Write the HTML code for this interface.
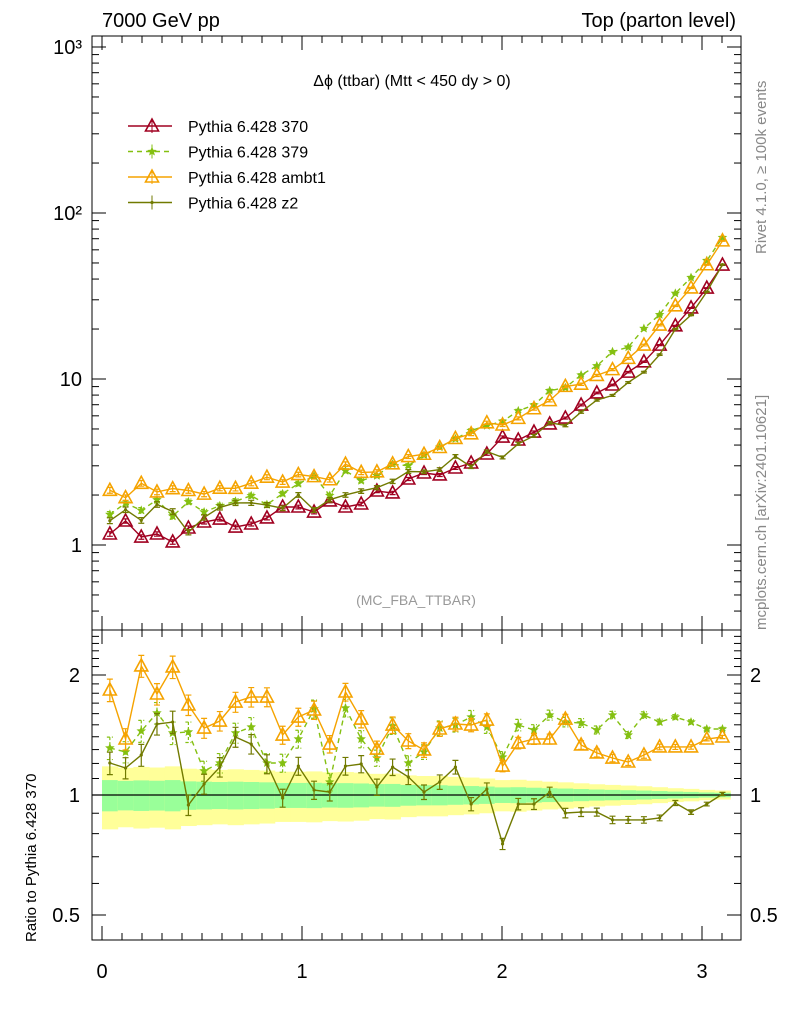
<!DOCTYPE html>
<html><head><meta charset="utf-8"><style>
html,body{margin:0;padding:0;background:#fff;}
svg{display:block;font-family:"Liberation Sans",sans-serif;}
</style></head><body>
<svg id="chart" width="786" height="1024" viewBox="0 0 786 1024" xmlns="http://www.w3.org/2000/svg">
<rect x="0" y="0" width="786" height="1024" fill="#fff"/>
<g id="bands"></g>
<g id="ticks"></g>
<g id="series"></g>
<rect x="92" y="36" width="649" height="594" fill="none" stroke="#000" stroke-width="1"/>
<rect x="92" y="630" width="649" height="310" fill="none" stroke="#000" stroke-width="1"/>
<text x="102" y="27" font-size="20">7000 GeV pp</text>
<text x="736" y="27" font-size="20" text-anchor="end">Top (parton level)</text>
<text x="412" y="86" font-size="16" text-anchor="middle">Δϕ (ttbar) (Mtt &lt; 450 dy &gt; 0)</text>
<text x="416" y="605" font-size="14" fill="#999" text-anchor="middle">(MC_FBA_TTBAR)</text>
<text transform="translate(766,254) rotate(-90)" font-size="15" fill="#888">Rivet 4.1.0, ≥ 100k events</text>
<text transform="translate(766,630) rotate(-90)" font-size="15" fill="#888">mcplots.cern.ch [arXiv:2401.10621]</text>
<text transform="translate(36,942) rotate(-90)" font-size="15">Ratio to Pythia 6.428 370</text>
<g id="legend"></g>
</svg>
<script>
const categories = [];
for (let i = 0; i < 40; i++) categories.push((i + 0.5) * Math.PI / 40);
const ref370 = [1.165,1.395,1.117,1.165,1.043,1.266,1.376,1.434,1.283,1.338,1.455,1.694,1.694,1.58,1.842,1.694,1.766,2.115,2.058,2.498,2.715,2.641,2.91,3.119,3.533,4.47,4.29,4.79,5.36,5.82,6.97,8.24,9.2,11.0,12.7,16.0,20.9,26.8,35.3,48.6];
const ratio379 = [1.312,1.282,1.447,1.606,1.431,1.439,1.149,1.203,1.431,1.481,1.203,1.203,1.382,1.644,1.078,1.653,1.382,1.238,1.49,1.203,1.282,1.472,1.498,1.569,1.481,1.245,1.498,1.456,1.587,1.524,1.516,1.456,1.587,1.414,1.587,1.524,1.569,1.524,1.464,1.464];
const ratioAmbt1 = [1.834,1.382,2.107,1.792,2.095,1.682,1.472,1.533,1.711,1.761,1.761,1.414,1.569,1.634,1.342,1.813,1.551,1.304,1.498,1.366,1.297,1.464,1.507,1.498,1.542,1.182,1.35,1.382,1.382,1.551,1.335,1.275,1.238,1.21,1.26,1.32,1.32,1.32,1.382,1.398];
const ratioZ2 = [1.203,1.169,1.26,1.507,1.524,0.944,1.066,1.175,1.398,1.342,1.196,0.983,1.182,1.029,1.017,1.182,1.196,1.047,1.175,1.11,1.017,1.078,1.175,0.949,1.035,0.754,0.949,0.949,1.017,0.901,0.906,0.906,0.866,0.866,0.866,0.876,0.955,0.906,0.949,1.006];
const relErr = [0.09,0.085,0.088,0.086,0.09,0.082,0.08,0.078,0.08,0.078,0.076,0.072,0.072,0.073,0.07,0.071,0.069,0.065,0.066,0.06,0.058,0.058,0.055,0.053,0.05,0.045,0.046,0.043,0.04,0.038,0.035,0.032,0.03,0.028,0.026,0.023,0.02,0.018,0.015,0.013];
const mainTickLabels = ["1","10","10²","10³"];
const ratioTickLabels = ["0.5","1","2"];
const xTickLabels = ["0","1","2","3"];

const NS = "http://www.w3.org/2000/svg";
const X = v => 102 + 200 * v;
const YM = v => 545 - 166 * Math.log10(v);
const YR = r => 795 - 120 * Math.log2(r);
function mk(tag, attrs, parent) { const e = document.createElementNS(NS, tag); for (const k in attrs) e.setAttribute(k, attrs[k]); parent.appendChild(e); return e; }
const ticks = document.getElementById('ticks');
const bandsG = document.getElementById('bands');
const seriesG = document.getElementById('series');
const legendG = document.getElementById('legend');

// bands
const hw = Math.PI / 80;
categories.forEach((c, i) => {
  const y1 = mk('rect', {x: X(c - hw), width: X(c + hw) - X(c - hw) + 0.5, y: YR(1 + 2 * relErr[i]), height: YR(1 - 2 * relErr[i]) - YR(1 + 2 * relErr[i]), fill: '#ffff99'}, bandsG);
  
  
  const g1 = mk('rect', {x: X(c - hw), width: X(c + hw) - X(c - hw) + 0.5, y: YR(1 + relErr[i]), height: YR(1 - relErr[i]) - YR(1 + relErr[i]), fill: '#99ff99'}, bandsG);
  
  
});
const one = mk('line', {x1: 92, x2: 741, y1: YR(1), y2: YR(1), stroke: '#000', 'stroke-width': 1.2}, bandsG);



// main y ticks
for (let d = -1; d <= 3; d++) {
  for (let m = 1; m <= 9; m++) {
    const v = m * Math.pow(10, d);
    const y = YM(v);
    if (y < 36 || y > 630) continue;
    const L = m === 1 ? 14 : 7;
    mk('line', {x1: 92, x2: 92 + L, y1: y, y2: y, stroke: '#000'}, ticks);
    mk('line', {x1: 741, x2: 741 - L, y1: y, y2: y, stroke: '#000'}, ticks);
  }
}
[1, 10, 100, 1000].forEach((v, i) => {
  const t = mk('text', {x: 82, y: YM(v) + 7, 'font-size': 20, 'text-anchor': 'end'}, ticks);
  t.textContent = mainTickLabels[i];
  
  
});
// ratio y ticks
for (let r = 0.5; r <= 2.55; r += 0.1) {
  const y = YR(r); if (y < 630 || y > 940) continue;
  const major = Math.abs(r - 0.5) < 1e-6 || Math.abs(r - 1) < 1e-6 || Math.abs(r - 2) < 1e-6;
  const L = major ? 14 : 7;
  mk('line', {x1: 92, x2: 92 + L, y1: y, y2: y, stroke: '#000'}, ticks);
  mk('line', {x1: 741, x2: 741 - L, y1: y, y2: y, stroke: '#000'}, ticks);
}
[0.5, 1, 2].forEach((r, i) => {
  const t = mk('text', {x: 80, y: YR(r) + 7, 'font-size': 20, 'text-anchor': 'end'}, ticks);
  t.textContent = ratioTickLabels[i];
  
  
  const t2 = mk('text', {x: 750, y: YR(r) + 7, 'font-size': 20}, ticks);
  t2.textContent = ratioTickLabels[i];
  
  
});
// x ticks
for (let k = 0; k <= 31; k++) {
  const v = k / 10; const x = X(v); if (x > 741) continue;
  const L = k % 10 === 0 ? 14 : 7;
  [[630, -1], [940, -1], [36, 1], [630, 1]].forEach(([y0, s]) => mk('line', {x1: x, x2: x, y1: y0, y2: y0 + s * L, stroke: '#000'}, ticks));
}
[0, 1, 2, 3].forEach((v, i) => {
  const t = mk('text', {x: X(v), y: 978, 'font-size': 20, 'text-anchor': 'middle'}, ticks);
  t.textContent = xTickLabels[i];
  
  
});

function star(cx, cy, r) {
  let p = [];
  for (let k = 0; k < 10; k++) { const a = -Math.PI / 2 + k * Math.PI / 5; const rr = k % 2 ? r * 0.45 : r; p.push((cx + rr * Math.cos(a)).toFixed(1) + ',' + (cy + rr * Math.sin(a)).toFixed(1)); }
  return p.join(' ');
}
function marker(g, type, color, x, y) {
  if (type === 'tri') mk('polygon', {points: `${x},${y - 7} ${x - 6.5},${y + 5} ${x + 6.5},${y + 5}`, fill: 'none', stroke: color, 'stroke-width': 1.6}, g);
  else if (type === 'star') mk('polygon', {points: star(x, y, 5), fill: color}, g);
  else mk('circle', {cx: x, cy: y, r: 1.6, fill: color}, g);
}
const seriesDefs = [
  {name: 'Pythia 6.428 370', key: 'series-370', color: '#a00020', type: 'tri', dash: '', ratio: ref370.map(() => 1), errScale: 0.35},
  {name: 'Pythia 6.428 379', key: 'series-379', color: '#84c011', type: 'star', dash: '5,4', ratio: ratio379, errScale: 0.45},
  {name: 'Pythia 6.428 ambt1', key: 'series-ambt1', color: '#f5a300', type: 'tri', dash: '', ratio: ratioAmbt1, errScale: 0.45},
  {name: 'Pythia 6.428 z2', key: 'series-z2', color: '#717a00', type: 'dot', dash: '', ratio: ratioZ2, errScale: 0.45}
];
function drawSeries(s, yfn, vals, panel) {
  const g = mk('g', {}, seriesG);
  
  
  const pts = categories.map((c, i) => X(c).toFixed(1) + ',' + yfn(vals[i]).toFixed(1)).join(' ');
  const pl = mk('polyline', {points: pts, fill: 'none', stroke: s.color, 'stroke-width': 1.4}, g);
  if (s.dash) pl.setAttribute('stroke-dasharray', s.dash);
  categories.forEach((c, i) => {
    const e = relErr[i] * s.errScale * (panel === 'ratio' ? 1.6 : 1);
    const x = X(c), yt = yfn(vals[i] * (1 + e)), yb = yfn(vals[i] * (1 - e));
    const bar = mk('path', {d: `M${x},${yt}V${yb}M${x - 3},${yt}H${x + 3}M${x - 3},${yb}H${x + 3}`, stroke: s.color, 'stroke-width': 1.2, fill: 'none'}, g);
    if (s.dash) bar.setAttribute('stroke-dasharray', '3,2');
    marker(g, s.type, s.color, x, yfn(vals[i]));
  });
}
seriesDefs.forEach(s => {
  const mainVals = ref370.map((v, i) => v * s.ratio[i]);
  drawSeries(s, YM, mainVals, 'main');
  if (s.key !== 'series-370') drawSeries(s, YR, s.ratio, 'ratio');
});
// legend
seriesDefs.forEach((s, i) => {
  const y = 126 + i * 25.5;
  const g = mk('g', {}, legendG);
  
  
  const l = mk('line', {x1: 128, x2: 172, y1: y, y2: y, stroke: s.color, 'stroke-width': 1.4}, g);
  if (s.dash) l.setAttribute('stroke-dasharray', s.dash);
  marker(g, s.type, s.color, 152, y);
  mk('path', {d: `M152,${y - 7}V${y + 7}`, stroke: s.color, 'stroke-width': 1}, g);
  const t = mk('text', {x: 188, y: y + 6, 'font-size': 16}, g);
  t.textContent = s.name;
});
</script>
</body></html>
